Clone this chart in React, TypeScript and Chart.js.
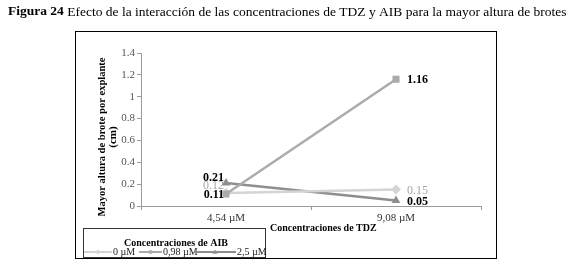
import React, { useEffect, useRef } from "react";
import { Chart, registerables } from "chart.js";

Chart.register(...registerables);

const categories = ["4,54 µM", "9,08 µM"];
const seriesNames = ["0 µM", "0,98 µM", "2,5 µM"];
const aib0 = [0.12, 0.15];
const aib098 = [0.11, 1.16];
const aib25 = [0.21, 0.05];
const yTickLabels = ["0", "0.2", "0.4", "0.6", "0.8", "1", "1.2", "1.4"];

const caption = ["Figura 24", " Efecto de la interacción de las concentraciones de TDZ y AIB para la mayor altura de brotes"];
const yTitle = ["Mayor altura de brote por explante", "(cm)"];
const xTitle = "Concentraciones de TDZ";
const legendTitle = "Concentraciones de AIB";

const SERIF = "'Liberation Serif', 'Times New Roman', serif";

const styles = [
  { color: "#d4d4d4", point: "rectRot", radius: 5, labelColor: "#a8a8a8", bold: false, dy0: -7 },
  { color: "#ababab", point: "rect", radius: 5, labelColor: "#000000", bold: true, dy0: 1 },
  { color: "#8e8e8e", point: "triangle", radius: 5, labelColor: "#000000", bold: true, dy0: -5 },
];

function drawMarker(ctx: CanvasRenderingContext2D, kind: string, x: number, y: number, r: number) {
  ctx.beginPath();
  if (kind === "rect") {
    ctx.rect(x - r * 0.7, y - r * 0.7, r * 1.4, r * 1.4);
  } else if (kind === "rectRot") {
    ctx.moveTo(x, y - r); ctx.lineTo(x + r, y); ctx.lineTo(x, y + r); ctx.lineTo(x - r, y); ctx.closePath();
  } else {
    ctx.moveTo(x, y - r); ctx.lineTo(x + r, y + r * 0.7); ctx.lineTo(x - r, y + r * 0.7); ctx.closePath();
  }
  ctx.fill();
}

const overlay = {
  id: "overlay",
  afterDraw(chart: any) {
    const ctx = chart.ctx as CanvasRenderingContext2D;
    ctx.save();
    // caption, fitted to the reference width
    ctx.textBaseline = "middle";
    ctx.fillStyle = "#000";
    ctx.font = `bold 12px ${SERIF}`;
    const a = ctx.measureText(caption[0]).width;
    ctx.font = `12px ${SERIF}`;
    const b = ctx.measureText(caption[1]).width;
    const size = (12 * 559) / (a + b);
    ctx.textAlign = "left";
    ctx.font = `bold ${size}px ${SERIF}`;
    const w1 = ctx.measureText(caption[0]).width;
    ctx.fillText(caption[0], 8, 12);
    ctx.font = `${size}px ${SERIF}`;
    ctx.fillText(caption[1], 8 + w1, 12);

    // outer border
    ctx.strokeStyle = "#000";
    ctx.lineWidth = 1;
    ctx.strokeRect(75.5, 31.5, 421, 227);

    // y title
    ctx.save();
    ctx.translate(102, 137);
    ctx.rotate(-Math.PI / 2);
    ctx.textAlign = "center";
    ctx.font = `bold 11px ${SERIF}`;
    const tw = ctx.measureText(yTitle[0]).width;
    const sx = Math.min(1, 159 / tw);
    ctx.save();
    ctx.scale(sx, 1);
    ctx.fillText(yTitle[0], 0, 0);
    ctx.restore();
    ctx.fillText(yTitle[1], 0, 11);
    ctx.restore();

    // x title
    ctx.textAlign = "left";
    ctx.font = `bold 10px ${SERIF}`;
    ctx.fillText(xTitle, 270, 228);

    // data labels
    chart.data.datasets.forEach((ds: any, i: number) => {
      const meta = chart.getDatasetMeta(i);
      const st = styles[i];
      meta.data.forEach((pt: any, j: number) => {
        const v = ds.data[j];
        ctx.fillStyle = st.labelColor;
        ctx.font = `${st.bold ? "bold " : ""}12px ${SERIF}`;
        const txt = v.toFixed(2);
        if (j === 0) {
          ctx.textAlign = "right";
          ctx.fillText(txt, pt.x - 2, pt.y + st.dy0);
        } else {
          ctx.textAlign = "left";
          ctx.fillText(txt, pt.x + 11, pt.y + 1);
        }
      });
    });

    // legend
    ctx.strokeStyle = "#333";
    ctx.lineWidth = 1;
    ctx.strokeRect(83.5, 228.5, 182, 29);
    ctx.fillStyle = "#000";
    ctx.textAlign = "center";
    ctx.font = `bold 10px ${SERIF}`;
    ctx.fillText(legendTitle, 176, 243);
    const items = [
      { x0: 84, x1: 112, tx: 113 },
      { x0: 139, x1: 162, tx: 163 },
      { x0: 194, x1: 236, tx: 237 },
    ];
    items.forEach((it, i) => {
      const st = styles[i];
      ctx.strokeStyle = st.color;
      ctx.lineWidth = 2;
      ctx.beginPath();
      ctx.moveTo(it.x0, 252);
      ctx.lineTo(it.x1, 252);
      ctx.stroke();
      ctx.fillStyle = st.color;
      drawMarker(ctx, st.point, (it.x0 + it.x1) / 2, 252, 2.5);
      ctx.fillStyle = "#222";
      ctx.textAlign = "left";
      ctx.font = `10px ${SERIF}`;
      ctx.fillText(seriesNames[i], it.tx, 252);
    });
    ctx.restore();
  },
};

export default function App() {
  const ref = useRef<HTMLCanvasElement>(null);
  useEffect(() => {
    const values = [aib0, aib098, aib25];
    const chart = new Chart(ref.current!, {
      type: "line",
      data: {
        labels: categories,
        datasets: values.map((d, i) => ({
          label: seriesNames[i],
          data: d,
          borderColor: styles[i].color,
          backgroundColor: styles[i].color,
          pointStyle: styles[i].point as any,
          pointRadius: styles[i].radius,
          pointBorderWidth: 0,
          borderWidth: 2.5,
          tension: 0,
          order: i === 1 ? 0 : 1,
        })),
      },
      options: {
        animation: false,
        responsive: false,
        maintainAspectRatio: false,
        devicePixelRatio: 1,
        layout: { padding: { left: 0, top: 53, right: 95, bottom: 0 } },
        plugins: { legend: { display: false }, title: { display: false }, tooltip: { enabled: false } },
        scales: {
          x: {
            type: "category",
            offset: true,
            afterFit: (s: any) => { s.height = 67; },
            grid: { display: true, offset: true, drawOnChartArea: false, drawTicks: true, tickLength: 4, color: "#9a9a9a" },
            border: { display: true, color: "#9a9a9a" },
            ticks: { font: { family: SERIF, size: 11 }, color: "#333", padding: 2, maxRotation: 0 },
          },
          y: {
            min: 0,
            max: 1.4,
            afterFit: (s: any) => { s.width = 141; },
            afterBuildTicks: (s: any) => { s.ticks = yTickLabels.map((t) => ({ value: parseFloat(t) })); },
            grid: { display: true, drawOnChartArea: false, drawTicks: true, tickLength: 4, color: "#9a9a9a" },
            border: { display: true, color: "#9a9a9a" },
            ticks: {
              font: { family: SERIF, size: 11 },
              color: "#555",
              padding: 2,
              callback: (_v: any, i: number) => yTickLabels[i],
            },
          },
        },
      },
      plugins: [overlay],
    });
    return () => chart.destroy();
  }, []);
  return (
    <div style={{ position: "absolute", left: 0, top: 0, width: 576, height: 273, background: "#fff" }}>
      <canvas ref={ref} width={576} height={273} style={{ width: 576, height: 273, display: "block" }} />
    </div>
  );
}
